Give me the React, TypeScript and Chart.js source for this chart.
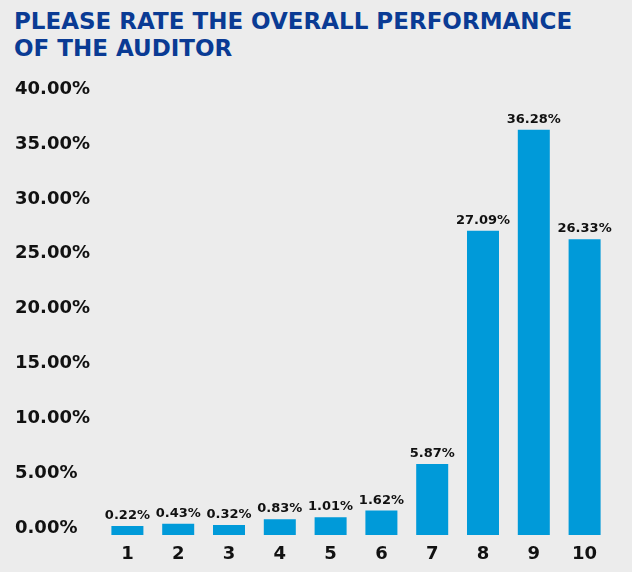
import React, { useEffect, useRef } from "react";
import { Chart, registerables } from "chart.js";

Chart.register(...registerables);

const TITLE_LINES = ["PLEASE RATE THE OVERALL PERFORMANCE", "OF THE AUDITOR"];
const CATEGORIES = ["1", "2", "3", "4", "5", "6", "7", "8", "9", "10"];
const VALUES = [0.22, 0.43, 0.32, 0.83, 1.01, 1.62, 5.87, 27.09, 36.28, 26.33];
const Y_TICKS = [0, 5, 10, 15, 20, 25, 30, 35, 40];

const FONT = "'DejaVu Sans', sans-serif";
const BAR_COLOR = "#009ad9";
const TITLE_COLOR = "#0a3b94";
const BG = "#ececec";

const labelPlugin = {
  id: "barLabels",
  afterDatasetsDraw(chart: any) {
    const ctx = chart.ctx;
    const meta = chart.getDatasetMeta(0);
    ctx.save();
    ctx.font = `bold 13px ${FONT}`;
    ctx.fillStyle = "#111111";
    ctx.textAlign = "center";
    ctx.textBaseline = "alphabetic";
    meta.data.forEach((bar: any, i: number) => {
      ctx.fillText(VALUES[i].toFixed(2) + "%", bar.x, bar.y - 7);
    });
    ctx.restore();
  },
};

export default function App() {
  const ref = useRef<HTMLCanvasElement>(null);
  useEffect(() => {
    document.body.style.margin = "0";
    const chart = new Chart(ref.current!, {
      type: "bar",
      data: {
        labels: CATEGORIES,
        datasets: [
          {
            data: VALUES,
            backgroundColor: BAR_COLOR,
            base: -0.6,
            barPercentage: 0.63,
            categoryPercentage: 1,
          } as any,
        ],
      },
      options: {
        animation: false,
        responsive: false,
        maintainAspectRatio: false,
        layout: { padding: { top: 89, left: 15, right: 22, bottom: 7 } },
        plugins: { legend: { display: false }, tooltip: { enabled: false }, title: { display: false } },
        scales: {
          x: {
            grid: { display: false, drawTicks: false },
            border: { display: false },
            afterFit: (scale: any) => {
              scale.height = 30;
            },
            ticks: { color: "#111", font: { family: FONT, size: 18, weight: "bold" }, padding: 9 },
          },
          y: {
            min: -0.6,
            max: 40,
            grid: { display: false, drawTicks: false },
            border: { display: false },
            afterBuildTicks: (scale: any) => {
              scale.ticks = Y_TICKS.map((v) => ({ value: v }));
            },
            afterFit: (scale: any) => {
              scale.width = 87;
            },
            ticks: {
              color: "#111",
              crossAlign: "far",
              font: { family: FONT, size: 18, weight: "bold" },
              callback: (v: any) => Number(v).toFixed(2) + "%",
            },
          },
        },
      },
      plugins: [labelPlugin],
    });
    return () => chart.destroy();
  }, []);

  return (
    <div style={{ position: "relative", width: 632, height: 572, background: BG, overflow: "hidden" }}>
      <div
        style={{
          position: "absolute",
          left: 14,
          top: 8,
          color: TITLE_COLOR,
          fontFamily: FONT,
          fontWeight: "bold",
          fontSize: 23,
          lineHeight: "27px",
          whiteSpace: "nowrap",
        }}
      >
        {TITLE_LINES.map((l) => (
          <div key={l}>{l}</div>
        ))}
      </div>
      <canvas ref={ref} width={632} height={572} style={{ position: "absolute", left: 0, top: 0 }} />
    </div>
  );
}
